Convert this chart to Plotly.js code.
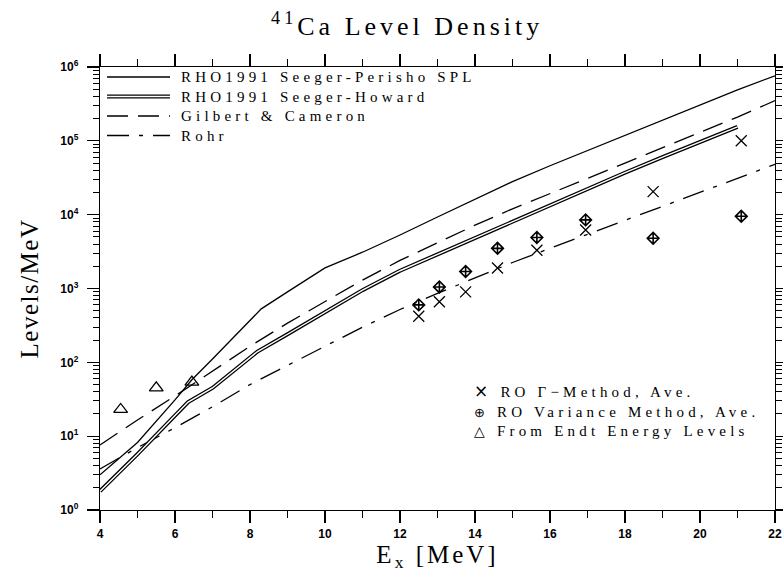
<!DOCTYPE html>
<html>
<head>
<meta charset="utf-8">
<script src="https://cdn.plot.ly/plotly-3.0.1.min.js"></script>
<style>
  html, body { margin: 0; padding: 0; background: #fff; }
  #chart { width: 783px; height: 572px; }
  .gtitle { letter-spacing: 4px; }
  .xtitle { letter-spacing: 3px; }
  .ytitle { letter-spacing: 1.5px; }
  .annotation-text { letter-spacing: 4.2px; }
</style>
</head>
<body>
<div id="chart"></div>
<script>
// ---- Data ----
// RHO1991 Seeger-Perisho SPL (solid)
const splX = [4, 5, 6, 6.45, 7, 8, 8.3, 9, 10, 11, 12, 13, 14, 15, 16, 17, 18, 19, 20, 21, 22];
const splY = [3.0, 8.2, 31, 58, 111, 367, 530, 900, 1900, 3100, 5300, 9300, 16300, 28000, 46000, 74000, 120000, 190000, 310000, 490000, 760000];
// RHO1991 Seeger-Howard (double line)
const shX = [4, 5, 6, 6.35, 7, 8, 8.2, 9, 10, 11, 12, 13, 14, 15, 16, 17, 18, 19, 20, 21];
const shY = [1.8, 5.7, 19, 29, 45, 115, 140, 240, 480, 950, 1740, 2900, 4800, 8000, 13300, 22000, 37000, 60000, 96000, 155000];
// Gilbert & Cameron (dashed)
const gcX = [4, 5, 6, 7, 8, 9, 10, 11, 12, 13, 14, 15, 16, 17, 18, 19, 20, 21, 22];
const gcY = [7.6, 16.6, 35, 76, 165, 340, 660, 1300, 2400, 4200, 7200, 12000, 19500, 31000, 50000, 80000, 130000, 210000, 350000];
// Rohr (dash-dot)
const rohrX = [4, 5, 6, 7, 8, 9, 10, 11, 12, 13, 14, 15, 16, 17, 18, 19, 20, 21, 22];
const rohrY = [3.6, 7, 13, 25, 50, 92, 165, 300, 520, 860, 1400, 2250, 3500, 5400, 8300, 12800, 20000, 31000, 48000];
// RO Gamma-method, Ave.
const gamX = [12.5, 13.05, 13.75, 14.6, 15.65, 16.95, 18.75, 21.1];
const gamY = [420, 660, 900, 1900, 3300, 6200, 20500, 100000];
// RO Variance method, Ave.
const varX = [12.5, 13.05, 13.75, 14.6, 15.65, 16.95, 18.75, 21.1];
const varY = [600, 1050, 1700, 3500, 4900, 8500, 4800, 9500];
// From Endt energy levels
const endtX = [4.55, 5.5, 6.45];
const endtY = [23, 45, 54];

// Tick labels
const xTickVals = [4, 6, 8, 10, 12, 14, 16, 18, 20, 22];
const xTickText = ['4', '6', '8', '10', '12', '14', '16', '18', '20', '22'];
const yTickVals = [1, 10, 100, 1000, 10000, 100000, 1000000];
const yTickText = ['10<sup>0</sup>', '10<sup>1</sup>', '10<sup>2</sup>', '10<sup>3</sup>', '10<sup>4</sup>', '10<sup>5</sup>', '10<sup>6</sup>'];
const yMinorVals = [];
for (let k = 0; k < 6; k++) for (let m = 2; m <= 9; m++) yMinorVals.push(m * Math.pow(10, k));

// Legend labels
const lineLegend = ['RHO1991 Seeger-Perisho SPL', 'RHO1991 Seeger-Howard', 'Gilbert & Cameron', 'Rohr'];
const markLegend = ['RO \u0393\u2212Method, Ave.', 'RO Variance Method, Ave.', 'From Endt Energy Levels'];

const serif = 'Liberation Serif, DejaVu Serif, serif';
const sans = 'Liberation Sans, Arial, sans-serif';

const traces = [
  { x: rohrX, y: rohrY, name: lineLegend[3], mode: 'lines', showlegend: false,
    line: { color: '#000', width: 1.3, dash: '22px,10px,4px,10px' } },
  { x: gcX, y: gcY, name: lineLegend[2], mode: 'lines', showlegend: false,
    line: { color: '#000', width: 1.3, dash: '21px,10px' } },
  { x: shX, y: shY, name: lineLegend[1], mode: 'lines', showlegend: false,
    line: { color: '#000', width: 4 } },
  { x: shX, y: shY, name: lineLegend[1], mode: 'lines', showlegend: false, hoverinfo: 'skip',
    line: { color: '#fff', width: 1.4 } },
  { x: splX, y: splY, name: lineLegend[0], mode: 'lines', showlegend: false,
    line: { color: '#000', width: 1.3 } },
  { x: gamX, y: gamY, name: markLegend[0], mode: 'markers', showlegend: false,
    marker: { symbol: 'x-thin-open', size: 11, color: '#000', line: { color: '#000', width: 1.3 } } },
  { x: varX, y: varY, name: markLegend[1], mode: 'markers', showlegend: false,
    marker: { symbol: 'diamond-cross-open', size: 9, color: '#000', line: { color: '#000', width: 1.6 } } },
  { x: endtX, y: endtY, name: markLegend[2], mode: 'markers', showlegend: false,
    marker: { symbol: 'triangle-up-open', size: 12, color: '#000', line: { color: '#000', width: 1.3 } } }
];

// Manual legends (paper coordinates); rows are 19.5 px apart (font 15 * 1.3)
const lineRowsY = [0.9774, 0.9334, 0.8894, 0.8454];
const lineDash = ['solid', 'double', '21px,10px', '22px,10px,4px,10px'];
const shapes = [];
lineLegend.forEach((t, i) => {
  const y = lineRowsY[i];
  if (lineDash[i] === 'double') {
    shapes.push({ type: 'line', xref: 'paper', yref: 'paper', x0: 0.0104, x1: 0.1037, y0: y, y1: y, line: { color: '#000', width: 4 } });
    shapes.push({ type: 'line', xref: 'paper', yref: 'paper', x0: 0.0104, x1: 0.1037, y0: y, y1: y, line: { color: '#fff', width: 1.4 } });
  } else {
    shapes.push({ type: 'line', xref: 'paper', yref: 'paper', x0: 0.0104, x1: 0.1037, y0: y, y1: y, line: { color: '#000', width: 1.3, dash: lineDash[i] } });
  }
});
const markGlyph = ['\u00d7', '\u2295', '\u25b3'];
const markGlyphSize = [17, 13, 14];
const markText = markLegend.map((t, i) =>
  '<span style="font-family:DejaVu Sans;font-size:' + markGlyphSize[i] + 'px">' + markGlyph[i] + '</span> ' + t).join('<br>');

const annotations = [
  { xref: 'paper', yref: 'paper', x: 0.1185, y: 0.9114, xanchor: 'left', yanchor: 'middle', align: 'left', showarrow: false,
    text: lineLegend.join('<br>'), font: { family: serif, size: 15, color: '#000' }, borderpad: 0 },
  { xref: 'paper', yref: 'paper', x: 0.552, y: 0.2257, xanchor: 'left', yanchor: 'middle', align: 'left', showarrow: false,
    text: markText, font: { family: serif, size: 15, color: '#000' }, borderpad: 0 }
];

const layout = {
  width: 783, height: 572,
  margin: { l: 100, r: 8, t: 67, b: 62 },
  paper_bgcolor: '#fff', plot_bgcolor: '#fff',
  showlegend: false,
  title: { text: '<sup>41</sup>Ca Level Density', xref: 'container', x: 0.52, xanchor: 'center',
           yref: 'container', y: 0.955, yanchor: 'middle', font: { family: serif, size: 26, color: '#000' } },
  xaxis: {
    range: [4, 22], showgrid: false, zeroline: false,
    showline: true, linecolor: '#000', linewidth: 1.3, mirror: 'ticks',
    tickmode: 'array', tickvals: xTickVals, ticktext: xTickText,
    ticks: 'outside', ticklen: 12, tickwidth: 1.3, tickcolor: '#000',
    minor: { dtick: 1, tick0: 4, ticks: 'outside', ticklen: 7, tickwidth: 1.2, tickcolor: '#000' },
    tickfont: { family: sans, size: 12, color: '#000', weight: 'bold' },
    title: { text: 'E<sub>x</sub> [MeV]', font: { family: serif, size: 25, color: '#000' }, standoff: 9 },
    automargin: false
  },
  yaxis: {
    type: 'log', range: [0, 6], showgrid: false, zeroline: false,
    showline: true, linecolor: '#000', linewidth: 1.3, mirror: 'ticks',
    tickmode: 'array', tickvals: yTickVals, ticktext: yTickText,
    ticks: 'outside', ticklen: 12, tickwidth: 1.3, tickcolor: '#000',
    minor: { tickmode: 'array', tickvals: yMinorVals, ticks: 'outside', ticklen: 6, tickwidth: 1, tickcolor: '#000' },
    tickfont: { family: sans, size: 12, color: '#000', weight: 'bold' },
    ticklabelstandoff: 6,
    title: { text: 'Levels/MeV', font: { family: serif, size: 25, color: '#000' }, standoff: 14 },
    automargin: false
  },
  shapes: shapes,
  annotations: annotations
};

Plotly.newPlot('chart', traces, layout, { staticPlot: true, displayModeBar: false });
</script>
</body>
</html>
